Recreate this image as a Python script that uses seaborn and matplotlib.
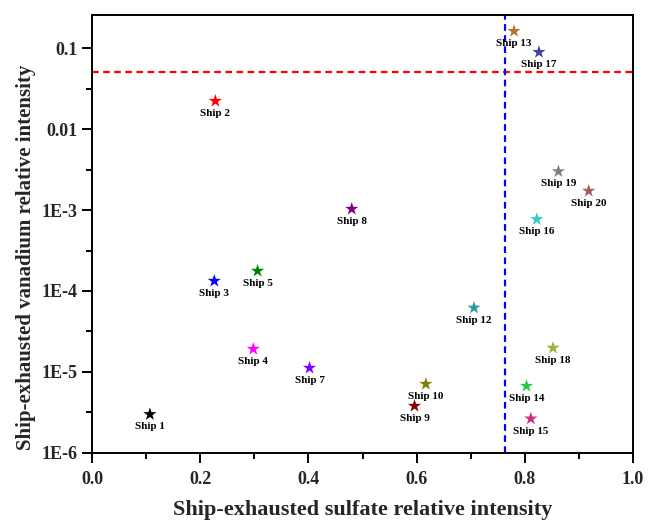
import matplotlib
matplotlib.use("Agg")
import matplotlib.pyplot as plt
import matplotlib.ticker as mticker
import numpy as np
import pandas as pd
import seaborn as sns

ships = ["Ship 1", "Ship 2", "Ship 3", "Ship 4", "Ship 5", "Ship 7", "Ship 8",
         "Ship 9", "Ship 10", "Ship 12", "Ship 13", "Ship 14", "Ship 15",
         "Ship 16", "Ship 17", "Ship 18", "Ship 19", "Ship 20"]
sulfate = [0.107, 0.228, 0.226, 0.298, 0.306, 0.402, 0.480,
           0.596, 0.617, 0.706, 0.780, 0.803, 0.811,
           0.822, 0.826, 0.852, 0.862, 0.918]
vanadium = [3.0e-6, 0.0222, 1.33e-4, 1.92e-5, 1.77e-4, 1.12e-5, 1.03e-3,
            3.8e-6, 7.1e-6, 6.2e-5, 0.162, 6.7e-6, 2.65e-6,
            7.7e-4, 0.089, 1.98e-5, 3.0e-3, 1.72e-3]
colors = ["#000000", "#FF0000", "#0000FF", "#FF00FF", "#008000", "#8000FF", "#800080",
          "#800000", "#808000", "#2A9A9A", "#B8732A", "#22CC44", "#C83285",
          "#33CCCC", "#4040A0", "#A0B040", "#808080", "#A06060"]
v_threshold = 0.05
s_threshold = 0.763

sns.set_theme(style="ticks")
plt.rcParams["font.family"] = ["Liberation Serif", "DejaVu Serif"]
plt.rcParams["font.weight"] = "bold"

df = pd.DataFrame({"ship": ships, "sulfate": sulfate, "vanadium": vanadium})

fig = plt.figure(figsize=(6.48, 5.23), dpi=100)
ax = fig.add_axes([0.142, 0.134, 0.835, 0.837])

sns.scatterplot(data=df, x="sulfate", y="vanadium", hue="ship",
                palette=dict(zip(ships, colors)), marker="*", s=100,
                linewidth=0, legend=False, ax=ax, zorder=3)

ax.set_yscale("log")
ax.set_xlim(0, 1.0)
ax.set_ylim(1e-6, 0.255)

ax.axhline(v_threshold, color="#FF0000", linestyle=(0, (3, 2)), linewidth=1.6, zorder=2)
ax.axvline(s_threshold, color="#0000FF", linestyle=(0, (3, 2)), linewidth=1.6, zorder=2)

for name, x, y in zip(ships, sulfate, vanadium):
    ax.annotate(name, (x, y), xytext=(0, -9), textcoords="offset points",
                ha="center", va="center", fontsize=8, fontweight="bold",
                color="black", zorder=4)

ax.xaxis.set_major_locator(mticker.MultipleLocator(0.2))
ax.xaxis.set_minor_locator(mticker.MultipleLocator(0.1))
ax.xaxis.set_major_formatter(mticker.FormatStrFormatter("%.1f"))

major_y = [1e-6, 1e-5, 1e-4, 1e-3, 1e-2, 1e-1]
major_lbl = ["1E-6", "1E-5", "1E-4", "1E-3", "0.01", "0.1"]
ax.yaxis.set_major_locator(mticker.FixedLocator(major_y))
ax.yaxis.set_major_formatter(mticker.FixedFormatter(major_lbl))
ax.yaxis.set_minor_locator(mticker.FixedLocator([10 ** (k + 0.5) for k in range(-6, 0)]))
ax.yaxis.set_minor_formatter(mticker.NullFormatter())

ax.tick_params(axis="both", which="major", direction="out", length=7, width=1.4,
               labelsize=13, color="black")
ax.tick_params(axis="x", which="major", pad=6)
ax.tick_params(axis="both", which="minor", direction="out", length=4, width=1.4, color="black")
for lbl in ax.get_xticklabels() + ax.get_yticklabels():
    lbl.set_fontweight("bold")

for sp in ax.spines.values():
    sp.set_linewidth(1.4)
    sp.set_color("black")

ax.set_xlabel("Ship-exhausted sulfate relative intensity", fontsize=16,
              fontweight="bold")
ax.set_ylabel("Ship-exhausted vanadium relative intensity", fontsize=15,
              fontweight="bold")
ax.xaxis.set_label_coords(0.5, -0.107)
ax.yaxis.set_label_coords(-0.104, 0.447)

fig.savefig("out.png", dpi=100)
